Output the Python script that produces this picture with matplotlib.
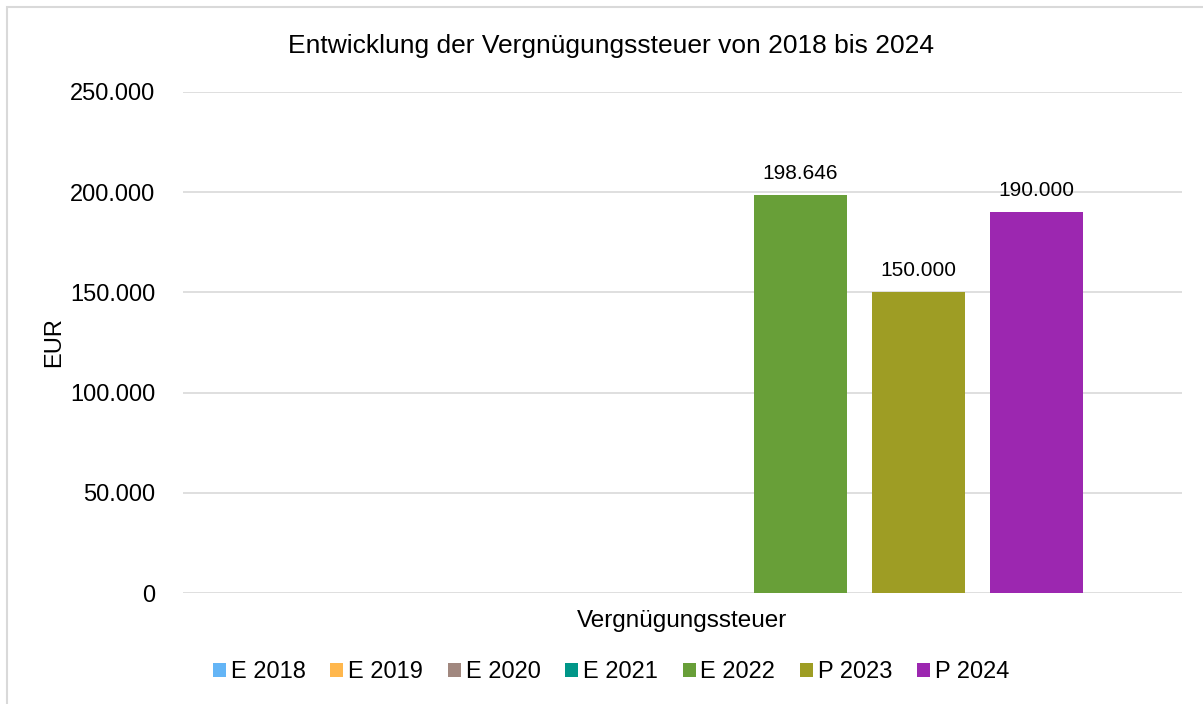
import matplotlib.pyplot as plt
from matplotlib.patches import Patch, Rectangle
from matplotlib.ticker import FuncFormatter

plt.rcParams['font.family'] = ['Liberation Sans', 'DejaVu Sans']

# data
category = 'Vergnügungssteuer'
series = ['E 2018', 'E 2019', 'E 2020', 'E 2021', 'E 2022', 'P 2023', 'P 2024']
values = [0, 0, 0, 0, 198646, 150000, 190000]
colors = ['#64B5F6', '#FFB74D', '#A1887F', '#009688', '#689F38', '#9E9D24', '#9C27B0']

W, H = 1203, 704
fig = plt.figure(figsize=(W / 100, H / 100), dpi=100)

# plot area in pixels
left, right, top, bottom = 183, 1182, 92, 593
ax = fig.add_axes([left / W, 1 - bottom / H, (right - left) / W, (bottom - top) / H])

def de_fmt(v, pos=None):
    return '{:,.0f}'.format(v).replace(',', '.')

n = len(series)
width = 93 / 118
for i in range(n):
    x = i - (n - 1) / 2
    if values[i] > 0:
        ax.bar(x, values[i], width=width, color=colors[i], zorder=3)
        ax.text(x, values[i] + 6000, de_fmt(values[i]), ha='center', va='bottom',
                fontsize=15, color='#000000', zorder=4)

half = (right - left) / 2 / 118
ax.set_xlim(-half, half)
ax.set_ylim(0, 250000)
ax.set_yticks([0, 50000, 100000, 150000, 200000, 250000])
ax.yaxis.set_major_formatter(FuncFormatter(de_fmt))
ax.grid(axis='y', color='#D9D9D9', linewidth=1.2, zorder=0)
for s in ax.spines.values():
    s.set_visible(False)
ax.tick_params(axis='y', length=0, pad=20, labelsize=17, labelcolor='#000000')
ax.set_xticks([0])
ax.set_xticklabels([category])
ax.tick_params(axis='x', length=0, pad=12, labelsize=17.5, labelcolor='#000000')

fig.text(54 / W, 1 - 342 / H, 'EUR', rotation=90, ha='center', va='center', fontsize=17)
fig.text(611 / W, 1 - 46 / H, 'Entwicklung der Vergnügungssteuer von 2018 bis 2024',
         ha='center', va='center', fontsize=19)

handles = [Patch(facecolor=c, edgecolor='none') for c in colors]
fig.legend(handles, series, loc='center', bbox_to_anchor=(611 / W, 1 - 672 / H),
           ncol=7, frameon=False, fontsize=17, handlelength=0.55, handleheight=0.55,
           handletextpad=0.2, columnspacing=1.05, borderpad=0)

# chart border
fig.patches.append(Rectangle((7 / W, -0.1), 1.2, 1.1 - 7 / H, transform=fig.transFigure,
                             fill=False, edgecolor='#D9D9D9', linewidth=1.5))

fig.savefig('out.png', dpi=100)
